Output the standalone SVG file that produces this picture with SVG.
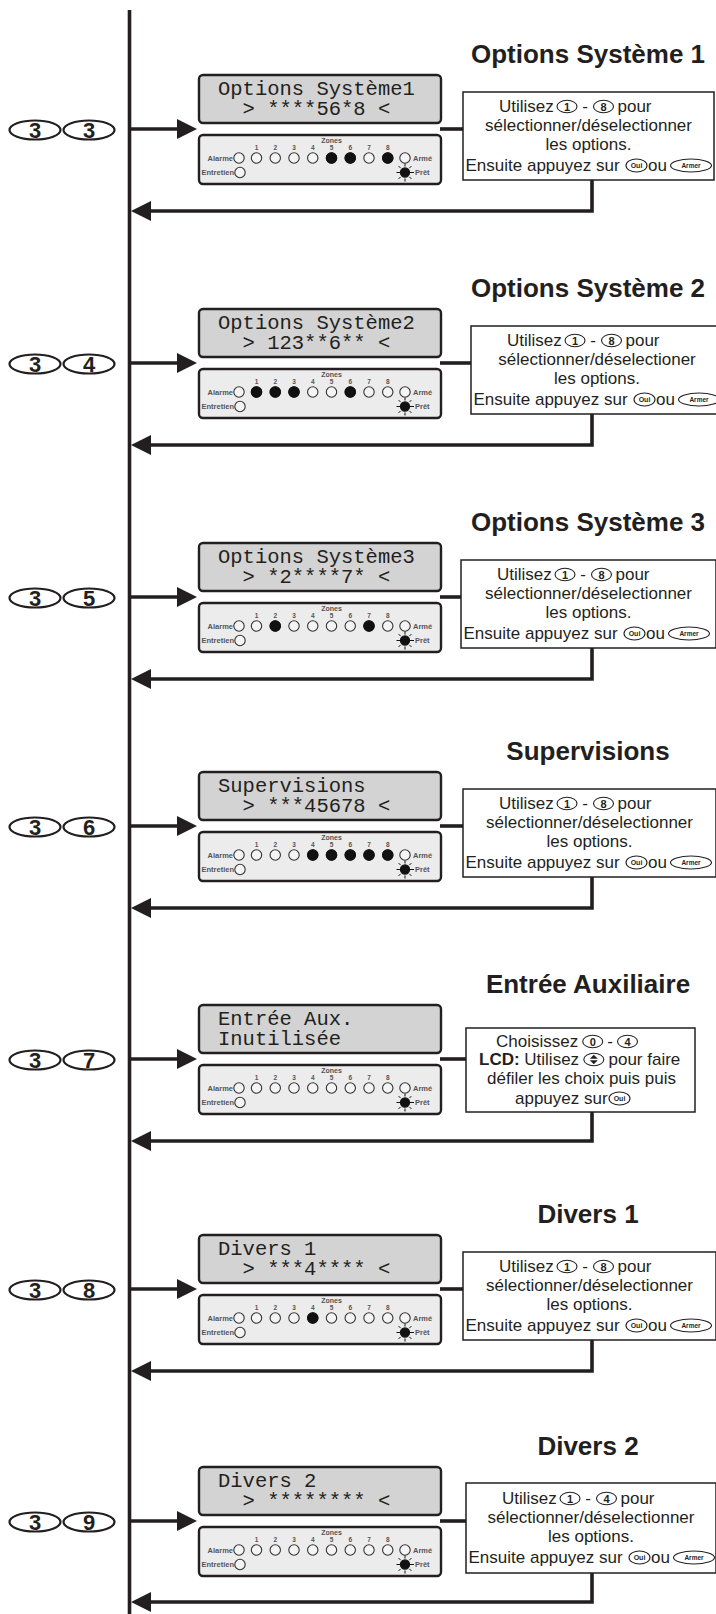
<svg xmlns="http://www.w3.org/2000/svg" width="716" height="1614" viewBox="0 0 716 1614">
<style>
.ln{stroke:#231f20;stroke-width:3.6;fill:none}
.ah{fill:#231f20}
.key{fill:none;stroke:#231f20;stroke-width:2.2}
.kd{font-family:"Liberation Sans",Arial,sans-serif;font-weight:bold;font-size:22px;fill:#231f20;text-anchor:middle}
.ttl{font-family:"Liberation Sans",Arial,sans-serif;font-weight:bold;font-size:26px;fill:#231f20;text-anchor:middle}
.lcdtop{fill:#d3d3d3;stroke:#231f20;stroke-width:2.4}
.lcdbot{fill:#ececec;stroke:#231f20;stroke-width:2.4}
.lcd{font-family:"Liberation Mono","DejaVu Sans Mono",monospace;font-size:20.5px;fill:#231f20}
.z{font-family:"Liberation Sans",Arial,sans-serif;font-weight:bold;font-size:6.5px;fill:#555;text-anchor:middle}
.zt{font-family:"Liberation Sans",Arial,sans-serif;font-weight:bold;font-size:7px;fill:#555;text-anchor:middle}
.lb{font-family:"Liberation Sans",Arial,sans-serif;font-weight:bold;font-size:7.5px;fill:#555}
.led{fill:#f4f4f4;stroke:#333;stroke-width:1.1}
.on{fill:#111;stroke:#111;stroke-width:1.1}
.box{fill:#fff;stroke:#231f20;stroke-width:1.5}
.t{font-family:"Liberation Sans",Arial,sans-serif;font-size:17px;fill:#231f20}
.m{text-anchor:middle}
.b{font-weight:bold}
.ce{fill:#fff;stroke:#231f20;stroke-width:1.1}
.cd{font-family:"Liberation Sans",Arial,sans-serif;font-weight:bold;font-size:11px;fill:#231f20;text-anchor:middle}
.ov{font-family:"Liberation Sans",Arial,sans-serif;font-weight:bold;font-size:7px;fill:#231f20;text-anchor:middle}
.ov2{font-family:"Liberation Sans",Arial,sans-serif;font-weight:bold;font-size:6.5px;fill:#231f20;text-anchor:middle}
</style>
<defs>
<g id="lcdframe">
<rect class="lcdtop" x="199" y="-54" width="242" height="48" rx="4"/>
<rect class="lcdbot" x="199" y="6" width="242" height="49" rx="4"/>
<text class="zt" x="331.5" y="13.5">Zones</text>
<text class="z" x="256.5" y="21">1</text>
<text class="z" x="275.25" y="21">2</text>
<text class="z" x="294" y="21">3</text>
<text class="z" x="312.75" y="21">4</text>
<text class="z" x="331.5" y="21">5</text>
<text class="z" x="350.25" y="21">6</text>
<text class="z" x="369" y="21">7</text>
<text class="z" x="387.75" y="21">8</text>
<text class="lb" x="233" y="31.7" text-anchor="end">Alarme</text>
<circle class="led" cx="239" cy="29" r="5.2"/>
<circle class="led" cx="256.5" cy="29" r="5.2"/>
<circle class="led" cx="275.25" cy="29" r="5.2"/>
<circle class="led" cx="294" cy="29" r="5.2"/>
<circle class="led" cx="312.75" cy="29" r="5.2"/>
<circle class="led" cx="331.5" cy="29" r="5.2"/>
<circle class="led" cx="350.25" cy="29" r="5.2"/>
<circle class="led" cx="369" cy="29" r="5.2"/>
<circle class="led" cx="387.75" cy="29" r="5.2"/>
<circle class="led" cx="405" cy="29" r="5.2"/>
<text class="lb" x="413" y="31.7">Armé</text>
<text class="lb" x="234" y="46.2" text-anchor="end">Entretien</text>
<circle class="led" cx="240" cy="43.5" r="5.2"/>
<circle class="on" cx="405" cy="43.5" r="4.6"/>
<path d="M396.5 43.5h3.5M410 43.5h4M405 34.5v3M405 49.5v3M398.6 37.1l2 2M411.4 37.1l-2 2M398.6 49.9l2-2M411.4 49.9l-2-2" stroke="#111" stroke-width="1"/>
<text class="lb" x="415" y="46.2">Prêt</text>
</g>
</defs>
<rect width="716" height="1614" fill="#fff"/>

<g id="connectors">
<line class="ln" x1="129.5" y1="10" x2="129.5" y2="1614"/>
<line class="ln" x1="129.5" y1="129" x2="180" y2="129"/><polygon class="ah" points="177,119 197,129 177,139"/>
<line class="ln" x1="440" y1="129" x2="463" y2="129"/>
<polyline class="ln" points="592,180 592,211 150,211"/><polygon class="ah" points="131,211 151,201 151,221"/>
<line class="ln" x1="129.5" y1="363" x2="180" y2="363"/><polygon class="ah" points="177,353 197,363 177,373"/>
<line class="ln" x1="440" y1="363" x2="471" y2="363"/>
<polyline class="ln" points="592,414 592,445 150,445"/><polygon class="ah" points="131,445 151,435 151,455"/>
<line class="ln" x1="129.5" y1="597" x2="180" y2="597"/><polygon class="ah" points="177,587 197,597 177,607"/>
<line class="ln" x1="440" y1="597" x2="461" y2="597"/>
<polyline class="ln" points="592,648 592,679 150,679"/><polygon class="ah" points="131,679 151,669 151,689"/>
<line class="ln" x1="129.5" y1="826" x2="180" y2="826"/><polygon class="ah" points="177,816 197,826 177,836"/>
<line class="ln" x1="440" y1="826" x2="463" y2="826"/>
<polyline class="ln" points="592,877 592,908 150,908"/><polygon class="ah" points="131,908 151,898 151,918"/>
<line class="ln" x1="129.5" y1="1059" x2="180" y2="1059"/><polygon class="ah" points="177,1049 197,1059 177,1069"/>
<line class="ln" x1="440" y1="1059" x2="466" y2="1059"/>
<polyline class="ln" points="592,1112 592,1141 150,1141"/><polygon class="ah" points="131,1141 151,1131 151,1151"/>
<line class="ln" x1="129.5" y1="1289" x2="180" y2="1289"/><polygon class="ah" points="177,1279 197,1289 177,1299"/>
<line class="ln" x1="440" y1="1289" x2="463" y2="1289"/>
<polyline class="ln" points="592,1340 592,1371 150,1371"/><polygon class="ah" points="131,1371 151,1361 151,1381"/>
<line class="ln" x1="129.5" y1="1521" x2="180" y2="1521"/><polygon class="ah" points="177,1511 197,1521 177,1531"/>
<line class="ln" x1="440" y1="1521" x2="466" y2="1521"/>
<polyline class="ln" points="592,1573 592,1602 150,1602"/><polygon class="ah" points="131,1602 151,1592 151,1612"/>
</g>

<g id="sec1" transform="translate(0,129)">
<g id="key33"><ellipse class="key" cx="35" cy="1" rx="25.5" ry="9.5"/><ellipse class="key" cx="89" cy="1" rx="25.5" ry="9.5"/><text class="kd" x="35" y="9">3</text><text class="kd" x="89" y="9">3</text></g>
<text id="title1" class="ttl" x="588" y="-66">Options Système 1</text>
<g id="lcd1"><use href="#lcdframe"/>
<text class="lcd" x="218" y="-34">Options Système1</text><text class="lcd" x="242.6" y="-14">&gt; ****56*8 &lt;</text>
<circle class="on" cx="331.5" cy="29" r="5.2"/><circle class="on" cx="350.25" cy="29" r="5.2"/><circle class="on" cx="387.75" cy="29" r="5.2"/></g>
<g id="box1"><rect class="box" x="463" y="-37" width="251" height="88"/>
<text class="t" x="499" y="-17">Utilisez</text>
<ellipse class="ce" cx="567" cy="-22.5" rx="10" ry="6.2"/><text class="cd" x="567" y="-18.5">1</text>
<text class="t m" x="585" y="-17">-</text>
<ellipse class="ce" cx="603.5" cy="-22.5" rx="10" ry="6.2"/><text class="cd" x="603.5" y="-18.5">8</text>
<text class="t" x="617.5" y="-17">pour</text>
<text class="t m" x="588.5" y="1.5">sélectionner/déselectionner</text>
<text class="t m" x="588.5" y="21">les options.</text>
<text class="t" x="465.5" y="41.5">Ensuite appuyez sur</text>
<ellipse class="ce" cx="636.5" cy="36.5" rx="10.5" ry="6.5"/><text class="ov" x="636.5" y="39">Oui</text>
<text class="t" x="648" y="41.5">ou</text>
<ellipse class="ce" cx="691" cy="36.5" rx="20.5" ry="6.5"/><text class="ov2" x="691" y="38.8">Armer</text>
</g>
</g>

<g id="sec2" transform="translate(0,363)">
<g id="key34"><ellipse class="key" cx="35" cy="1" rx="25.5" ry="9.5"/><ellipse class="key" cx="89" cy="1" rx="25.5" ry="9.5"/><text class="kd" x="35" y="9">3</text><text class="kd" x="89" y="9">4</text></g>
<text id="title2" class="ttl" x="588" y="-66">Options Système 2</text>
<g id="lcd2"><use href="#lcdframe"/>
<text class="lcd" x="218" y="-34">Options Système2</text><text class="lcd" x="242.6" y="-14">&gt; 123**6** &lt;</text>
<circle class="on" cx="256.5" cy="29" r="5.2"/><circle class="on" cx="275.25" cy="29" r="5.2"/><circle class="on" cx="294" cy="29" r="5.2"/><circle class="on" cx="350.25" cy="29" r="5.2"/></g>
<g id="box2"><rect class="box" x="471" y="-37" width="259" height="88"/>
<text class="t" x="507" y="-17">Utilisez</text>
<ellipse class="ce" cx="575" cy="-22.5" rx="10" ry="6.2"/><text class="cd" x="575" y="-18.5">1</text>
<text class="t m" x="593" y="-17">-</text>
<ellipse class="ce" cx="611.5" cy="-22.5" rx="10" ry="6.2"/><text class="cd" x="611.5" y="-18.5">8</text>
<text class="t" x="625.5" y="-17">pour</text>
<text class="t m" x="597" y="1.5">sélectionner/déselectioner</text>
<text class="t m" x="597" y="21">les options.</text>
<text class="t" x="473.5" y="41.5">Ensuite appuyez sur</text>
<ellipse class="ce" cx="644.5" cy="36.5" rx="10.5" ry="6.5"/><text class="ov" x="644.5" y="39">Oui</text>
<text class="t" x="656" y="41.5">ou</text>
<ellipse class="ce" cx="699" cy="36.5" rx="20.5" ry="6.5"/><text class="ov2" x="699" y="38.8">Armer</text>
</g>
</g>

<g id="sec3" transform="translate(0,597)">
<g id="key35"><ellipse class="key" cx="35" cy="1" rx="25.5" ry="9.5"/><ellipse class="key" cx="89" cy="1" rx="25.5" ry="9.5"/><text class="kd" x="35" y="9">3</text><text class="kd" x="89" y="9">5</text></g>
<text id="title3" class="ttl" x="588" y="-66">Options Système 3</text>
<g id="lcd3"><use href="#lcdframe"/>
<text class="lcd" x="218" y="-34">Options Système3</text><text class="lcd" x="242.6" y="-14">&gt; *2****7* &lt;</text>
<circle class="on" cx="275.25" cy="29" r="5.2"/><circle class="on" cx="369" cy="29" r="5.2"/></g>
<g id="box3"><rect class="box" x="461" y="-37" width="255" height="88"/>
<text class="t" x="497" y="-17">Utilisez</text>
<ellipse class="ce" cx="565" cy="-22.5" rx="10" ry="6.2"/><text class="cd" x="565" y="-18.5">1</text>
<text class="t m" x="583" y="-17">-</text>
<ellipse class="ce" cx="601.5" cy="-22.5" rx="10" ry="6.2"/><text class="cd" x="601.5" y="-18.5">8</text>
<text class="t" x="615.5" y="-17">pour</text>
<text class="t m" x="588.5" y="1.5">sélectionner/déselectionner</text>
<text class="t m" x="588.5" y="21">les options.</text>
<text class="t" x="463.5" y="41.5">Ensuite appuyez sur</text>
<ellipse class="ce" cx="634.5" cy="36.5" rx="10.5" ry="6.5"/><text class="ov" x="634.5" y="39">Oui</text>
<text class="t" x="646" y="41.5">ou</text>
<ellipse class="ce" cx="689" cy="36.5" rx="20.5" ry="6.5"/><text class="ov2" x="689" y="38.8">Armer</text>
</g>
</g>

<g id="sec4" transform="translate(0,826)">
<g id="key36"><ellipse class="key" cx="35" cy="1" rx="25.5" ry="9.5"/><ellipse class="key" cx="89" cy="1" rx="25.5" ry="9.5"/><text class="kd" x="35" y="9">3</text><text class="kd" x="89" y="9">6</text></g>
<text id="title4" class="ttl" x="588" y="-66">Supervisions</text>
<g id="lcd4"><use href="#lcdframe"/>
<text class="lcd" x="218" y="-34">Supervisions</text><text class="lcd" x="242.6" y="-14">&gt; ***45678 &lt;</text>
<circle class="on" cx="312.75" cy="29" r="5.2"/><circle class="on" cx="331.5" cy="29" r="5.2"/><circle class="on" cx="350.25" cy="29" r="5.2"/><circle class="on" cx="369" cy="29" r="5.2"/><circle class="on" cx="387.75" cy="29" r="5.2"/></g>
<g id="box4"><rect class="box" x="463" y="-37" width="253" height="88"/>
<text class="t" x="499" y="-17">Utilisez</text>
<ellipse class="ce" cx="567" cy="-22.5" rx="10" ry="6.2"/><text class="cd" x="567" y="-18.5">1</text>
<text class="t m" x="585" y="-17">-</text>
<ellipse class="ce" cx="603.5" cy="-22.5" rx="10" ry="6.2"/><text class="cd" x="603.5" y="-18.5">8</text>
<text class="t" x="617.5" y="-17">pour</text>
<text class="t m" x="589.5" y="1.5">sélectionner/déselectionner</text>
<text class="t m" x="589.5" y="21">les options.</text>
<text class="t" x="465.5" y="41.5">Ensuite appuyez sur</text>
<ellipse class="ce" cx="636.5" cy="36.5" rx="10.5" ry="6.5"/><text class="ov" x="636.5" y="39">Oui</text>
<text class="t" x="648" y="41.5">ou</text>
<ellipse class="ce" cx="691" cy="36.5" rx="20.5" ry="6.5"/><text class="ov2" x="691" y="38.8">Armer</text>
</g>
</g>

<g id="sec5" transform="translate(0,1059)">
<g id="key37"><ellipse class="key" cx="35" cy="1" rx="25.5" ry="9.5"/><ellipse class="key" cx="89" cy="1" rx="25.5" ry="9.5"/><text class="kd" x="35" y="9">3</text><text class="kd" x="89" y="9">7</text></g>
<text id="title5" class="ttl" x="588" y="-66">Entrée Auxiliaire</text>
<g id="lcd5"><use href="#lcdframe"/>
<text class="lcd" x="218" y="-34">Entrée Aux.</text><text class="lcd" x="218" y="-14">Inutilisée</text></g>
<g id="box5"><rect class="box" x="466" y="-31" width="229" height="84"/>
<text class="t" x="496" y="-12">Choisissez</text>
<ellipse class="ce" cx="592.7" cy="-17.5" rx="10" ry="6.2"/><text class="cd" x="592.7" y="-13.5">0</text>
<text class="t m" x="610" y="-12">-</text>
<ellipse class="ce" cx="627.5" cy="-17.5" rx="10" ry="6.2"/><text class="cd" x="627.5" y="-13.5">4</text>
<text class="t b" x="479" y="6">LCD:</text>
<text class="t" x="524.3" y="6">Utilisez</text>
<ellipse class="ce" cx="593.8" cy="0.5" rx="10" ry="6.2"/>
<path d="M589.8 -0.3L593.8 -4.3L597.8 -0.3ZM589.8 1.3L593.8 5.3L597.8 1.3Z" fill="#231f20"/>
<text class="t" x="608.5" y="6">pour faire</text>
<text class="t m" x="581.5" y="25">défiler les choix puis puis</text>
<text class="t" x="515" y="44.5">appuyez sur</text>
<ellipse class="ce" cx="619.5" cy="39.5" rx="10.5" ry="6.5"/><text class="ov" x="619.5" y="42">Oui</text>
</g>
</g>

<g id="sec6" transform="translate(0,1289)">
<g id="key38"><ellipse class="key" cx="35" cy="1" rx="25.5" ry="9.5"/><ellipse class="key" cx="89" cy="1" rx="25.5" ry="9.5"/><text class="kd" x="35" y="9">3</text><text class="kd" x="89" y="9">8</text></g>
<text id="title6" class="ttl" x="588" y="-66">Divers 1</text>
<g id="lcd6"><use href="#lcdframe"/>
<text class="lcd" x="218" y="-34">Divers 1</text><text class="lcd" x="242.6" y="-14">&gt; ***4**** &lt;</text>
<circle class="on" cx="312.75" cy="29" r="5.2"/></g>
<g id="box6"><rect class="box" x="463" y="-37" width="253" height="88"/>
<text class="t" x="499" y="-17">Utilisez</text>
<ellipse class="ce" cx="567" cy="-22.5" rx="10" ry="6.2"/><text class="cd" x="567" y="-18.5">1</text>
<text class="t m" x="585" y="-17">-</text>
<ellipse class="ce" cx="603.5" cy="-22.5" rx="10" ry="6.2"/><text class="cd" x="603.5" y="-18.5">8</text>
<text class="t" x="617.5" y="-17">pour</text>
<text class="t m" x="589.5" y="1.5">sélectionner/déselectionner</text>
<text class="t m" x="589.5" y="21">les options.</text>
<text class="t" x="465.5" y="41.5">Ensuite appuyez sur</text>
<ellipse class="ce" cx="636.5" cy="36.5" rx="10.5" ry="6.5"/><text class="ov" x="636.5" y="39">Oui</text>
<text class="t" x="648" y="41.5">ou</text>
<ellipse class="ce" cx="691" cy="36.5" rx="20.5" ry="6.5"/><text class="ov2" x="691" y="38.8">Armer</text>
</g>
</g>

<g id="sec7" transform="translate(0,1521)">
<g id="key39"><ellipse class="key" cx="35" cy="1" rx="25.5" ry="9.5"/><ellipse class="key" cx="89" cy="1" rx="25.5" ry="9.5"/><text class="kd" x="35" y="9">3</text><text class="kd" x="89" y="9">9</text></g>
<text id="title7" class="ttl" x="588" y="-66">Divers 2</text>
<g id="lcd7"><use href="#lcdframe"/>
<text class="lcd" x="218" y="-34">Divers 2</text><text class="lcd" x="242.6" y="-14">&gt; ******** &lt;</text></g>
<g id="box7"><rect class="box" x="466" y="-38" width="250" height="90"/>
<text class="t" x="502" y="-17">Utilisez</text>
<ellipse class="ce" cx="570" cy="-22.5" rx="10" ry="6.2"/><text class="cd" x="570" y="-18.5">1</text>
<text class="t m" x="588" y="-17">-</text>
<ellipse class="ce" cx="606.5" cy="-22.5" rx="10" ry="6.2"/><text class="cd" x="606.5" y="-18.5">4</text>
<text class="t" x="620.5" y="-17">pour</text>
<text class="t m" x="591" y="1.5">sélectionner/déselectionner</text>
<text class="t m" x="591" y="21">les options.</text>
<text class="t" x="468.5" y="41.5">Ensuite appuyez sur</text>
<ellipse class="ce" cx="639.5" cy="36.5" rx="10.5" ry="6.5"/><text class="ov" x="639.5" y="39">Oui</text>
<text class="t" x="651" y="41.5">ou</text>
<ellipse class="ce" cx="694" cy="36.5" rx="20.5" ry="6.5"/><text class="ov2" x="694" y="38.8">Armer</text>
</g>
</g>
</svg>
